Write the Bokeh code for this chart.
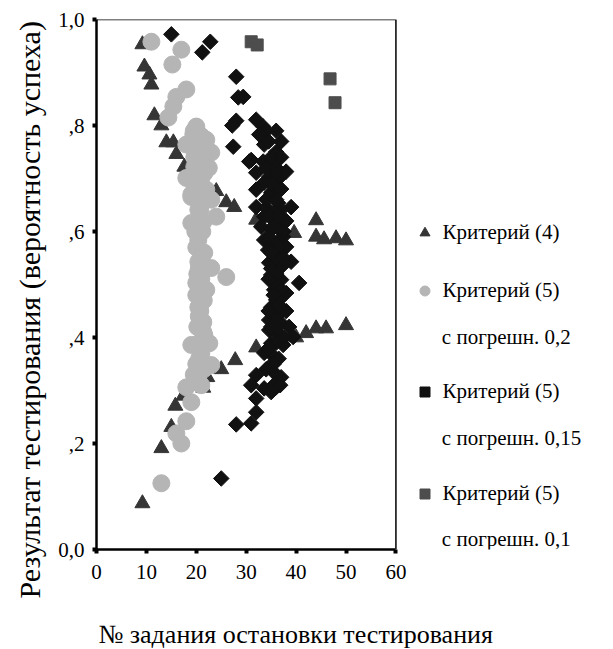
import math
from bokeh.plotting import figure
from bokeh.models import FixedTicker, Legend, LegendItem, Range1d, Title, Label
from bokeh.embed import file_html
from bokeh.resources import INLINE

# Критерий (4)
tri_x = [9.2, 9.6, 10.6, 11.0, 11.6, 13.0, 14.0, 15.4, 16.0, 17.6, 19.0, 24.0,
         26.0, 27.6, 32.0, 39.6, 44.0, 44.0, 45.6, 48.0, 50.0, 50.0, 46.0, 44.0,
         42.0, 40.0, 32.0, 27.8, 25.0, 22.2, 21.4, 17.4, 15.8, 15.0, 13.0, 9.2]
tri_y = [0.953, 0.911, 0.896, 0.877, 0.819, 0.800, 0.768, 0.768, 0.746, 0.722,
         0.708, 0.676, 0.655, 0.646, 0.622, 0.597, 0.621, 0.590, 0.585, 0.587,
         0.583, 0.423, 0.417, 0.417, 0.408, 0.400, 0.381, 0.357, 0.340, 0.325,
         0.305, 0.290, 0.271, 0.231, 0.191, 0.087]

# Критерий (5), погрешность 0,2
circ_x = [11.0, 17.0, 15.2, 18.0, 16.0, 15.4, 14.4, 20.0, 19.4, 22.0, 18.0,
          23.0, 20.4, 19.6, 18.0, 21.0, 22.0, 19.0, 23.0, 24.0, 19.0, 21.4,
          20.4, 20.4, 23.0, 26.0, 20.0, 22.0, 20.4, 21.4, 21.6, 19.0, 22.6,
          20.6, 23.0, 20.4, 18.0, 19.0, 18.0, 16.0, 17.0, 13.0, 19.0, 19.0,
          20.4, 20.6, 20.2, 21.0, 20.5, 21.0, 21.6, 19.6, 20.0,
          19.5, 21.0, 20.0, 21.5, 19.5, 21.0, 20.5, 19.8, 21.2, 20.0, 21.0,
          20.5, 21.0, 20.0, 21.5, 20.8, 20.2, 21.4, 20.6, 20.0, 21.5, 19.5,
          21.0, 20.8, 21.6, 22.5]
circ_y = [0.958, 0.943, 0.915, 0.868, 0.854, 0.836, 0.815, 0.798, 0.783, 0.773,
          0.764, 0.749, 0.745, 0.722, 0.701, 0.701, 0.679, 0.665, 0.660, 0.628,
          0.616, 0.618, 0.584, 0.543, 0.531, 0.514, 0.503, 0.490, 0.457, 0.429,
          0.405, 0.386, 0.389, 0.361, 0.348, 0.325, 0.306, 0.278, 0.242, 0.219,
          0.200, 0.125, 0.700, 0.670, 0.641, 0.600, 0.520, 0.470, 0.440, 0.370,
          0.560, 0.740, 0.760,
          0.790, 0.780, 0.720, 0.740, 0.690, 0.680, 0.660, 0.600, 0.600, 0.570,
          0.550, 0.530, 0.510, 0.480, 0.470, 0.450, 0.420, 0.410, 0.390, 0.350,
          0.340, 0.330, 0.310, 0.640, 0.710, 0.720]

# Критерий (5), погрешность 0,15
dia_x = [15.0, 22.8, 21.2, 28.0, 28.4, 29.4, 28.0, 27.2, 27.4, 30.6, 32.0,
         33.4, 34.0, 32.6, 33.6, 36.0, 31.0, 33.4, 35.4, 38.0, 32.0, 34.6,
         33.6, 32.0, 35.0, 39.0, 32.0, 34.0, 36.4, 37.0, 33.6, 35.6, 37.6,
         33.0, 35.0, 37.4, 33.6, 35.6, 38.0, 34.4, 36.6, 39.0, 34.6, 37.0,
         35.0, 37.0, 40.6, 35.6, 38.0, 36.0, 35.0, 37.4, 34.6, 37.0, 38.6,
         34.6, 36.6, 39.4, 35.0, 37.4, 33.6, 35.6, 35.0, 32.0, 37.0, 31.0,
         33.6, 36.0, 35.0, 32.0, 32.0, 28.0, 31.0, 25.0,
         36.0, 36.0, 36.0, 36.5, 34.0, 36.0, 37.0, 35.0, 36.0, 38.0, 36.0,
         38.0, 36.0, 37.0, 35.5, 36.5, 36.0, 35.5,
         34.5, 36.0, 35.0, 37.0, 34.0, 36.0, 35.0, 37.0, 36.0, 34.5, 36.5,
         35.5, 37.5, 34.5, 36.5, 35.0, 37.5, 36.0, 34.5, 37.0, 35.5, 36.5,
         34.5, 36.0, 35.0, 37.5, 36.0, 34.5, 36.5, 35.5, 36.0, 34.0, 35.5,
         36.8]
dia_y = [0.972, 0.958, 0.938, 0.892, 0.853, 0.854, 0.809, 0.800, 0.760, 0.732,
         0.811, 0.798, 0.790, 0.783, 0.764, 0.750, 0.735, 0.732, 0.730, 0.713,
         0.711, 0.703, 0.692, 0.679, 0.673, 0.646, 0.646, 0.645, 0.654, 0.641,
         0.628, 0.626, 0.616, 0.609, 0.603, 0.590, 0.584, 0.578, 0.571, 0.565,
         0.560, 0.543, 0.541, 0.533, 0.518, 0.509, 0.503, 0.490, 0.484, 0.471,
         0.457, 0.452, 0.433, 0.427, 0.420, 0.414, 0.405, 0.401, 0.389, 0.386,
         0.371, 0.363, 0.348, 0.329, 0.325, 0.310, 0.304, 0.306, 0.297, 0.285,
         0.259, 0.236, 0.238, 0.134,
         0.620, 0.550, 0.440, 0.700, 0.660, 0.680, 0.600, 0.530, 0.500, 0.450,
         0.410, 0.620, 0.720, 0.770, 0.580, 0.470, 0.640, 0.690,
         0.770, 0.790, 0.740, 0.740, 0.720, 0.710, 0.690, 0.680, 0.660, 0.630,
         0.630, 0.610, 0.600, 0.590, 0.570, 0.560, 0.550, 0.520, 0.510, 0.490,
         0.480, 0.460, 0.450, 0.430, 0.420, 0.400, 0.390, 0.380, 0.360, 0.350,
         0.330, 0.340, 0.310, 0.310]

# Критерий (5), погрешность 0,1
sq_x = [31.0, 32.2, 46.8, 47.8]
sq_y = [0.958, 0.952, 0.888, 0.843]

x_ticks = [0, 10, 20, 30, 40, 50, 60]
y_ticks = [0.0, 0.2, 0.4, 0.6, 0.8, 1.0]
y_tick_labels = ["0,0", ",2", ",4", ",6", ",8", "1,0"]

legend_first = ["Критерий (4)", "Критерий (5)", "Критерий (5)", "Критерий (5)"]
legend_second = ["с погрешн. 0,2", "с погрешн. 0,15", "с погрешн. 0,1"]

x_title = "№ задания остановки тестирования"
y_title = "Результат тестирования (вероятность успеха)"

FONT = "Liberation Serif"
TRI_C, CIRC_C, DIA_C, SQ_C = "#353535", "#b5b5b5", "#111111", "#4d4d4d"

X0, X1 = x_ticks[0], x_ticks[-1]
Y0, Y1 = y_ticks[0], y_ticks[-1]
PX_PER_X = 5.0  # 300 px of frame per 60 units

# the frame runs to the right edge so the key can sit beside the box;
# the box itself stops at x = 60
p = figure(width=613, height=649, output_backend="svg", toolbar_location=None,
           x_range=Range1d(X0, X0 + (613 - 95) / PX_PER_X),
           y_range=Range1d(Y0, Y1),
           min_border_left=95, min_border_right=0, min_border_top=19,
           min_border_bottom=100)

p.grid.visible = False
p.outline_line_color = None

for ax in (p.xaxis[0], p.yaxis[0]):
    ax.axis_line_width = 2.5
    ax.axis_line_color = "black"
    ax.major_tick_line_width = 4
    ax.major_tick_line_color = "black"
    ax.major_tick_out = 4
    ax.major_tick_in = 0
    ax.minor_tick_line_color = None
    ax.major_label_text_font = FONT
    ax.major_label_text_font_size = "21px"
    ax.major_label_text_color = "black"

p.xaxis.bounds = (X0, X1)
p.xaxis.ticker = FixedTicker(ticks=x_ticks)
p.yaxis.ticker = FixedTicker(ticks=y_ticks)
p.yaxis.major_label_overrides = {t: s for t, s in zip(y_ticks, y_tick_labels)}
p.xaxis.major_label_standoff = 11
p.yaxis.major_label_standoff = 8
# blank spacer label pushes the x title further down
p.xaxis.axis_label = " "
p.xaxis.axis_label_text_font_size = "2px"
p.xaxis.axis_label_standoff = 31

# top and right sides of the box
p.line([X0, X1, X1], [Y1, Y1, Y0], line_color="black", line_width=1.5)

# axis titles, anchored at the frame's lower-left corner and shifted
p.add_layout(Title(text=x_title, align="left", offset=2, standoff=0,
                   text_font=FONT, text_font_size="26px",
                   text_font_style="normal", text_color="black"), "below")
p.add_layout(Title(text=y_title, align="left", offset=-49, standoff=20,
                   text_font=FONT, text_font_size="30px",
                   text_font_style="normal", text_color="black"), "left")

r_tri = p.scatter(tri_x, tri_y, marker="triangle", size=15,
                  fill_color=TRI_C, line_color=TRI_C)
r_circ = p.scatter(circ_x, circ_y, marker="circle", size=17,
                   fill_color=CIRC_C, line_color=CIRC_C)
r_dia = p.scatter(dia_x, dia_y, marker="square", size=11, angle=math.pi / 4,
                  fill_color=DIA_C, line_color=DIA_C)
r_sq = p.scatter(sq_x, sq_y, marker="square", size=12,
                 fill_color=SQ_C, line_color=SQ_C)

# key: one box per series, first line beside the marker, second line below
item_centers = [232, 290, 391, 493]   # page y of each first line
for r, txt, cy in zip([r_tri, r_circ, r_dia, r_sq], legend_first, item_centers):
    lg = Legend(items=[LegendItem(label=txt, renderers=[r])],
                location=(315.5, 549 - cy - 12.5),
                glyph_width=25, glyph_height=25, label_height=25,
                label_standoff=6, padding=0, margin=0, spacing=0,
                border_line_color=None, background_fill_alpha=0,
                label_text_font=FONT, label_text_font_size="21px",
                label_text_color="black")
    p.add_layout(lg, "center")

second_centers = [336, 437, 538]
for txt, cy in zip(legend_second, second_centers):
    p.add_layout(Label(x=(441 - 95) / PX_PER_X, y=(549 - cy) / 530, text=txt,
                       text_font=FONT, text_font_size="21px",
                       text_baseline="middle", text_color="black"))

open("out.html", "w").write(file_html(p, INLINE))
